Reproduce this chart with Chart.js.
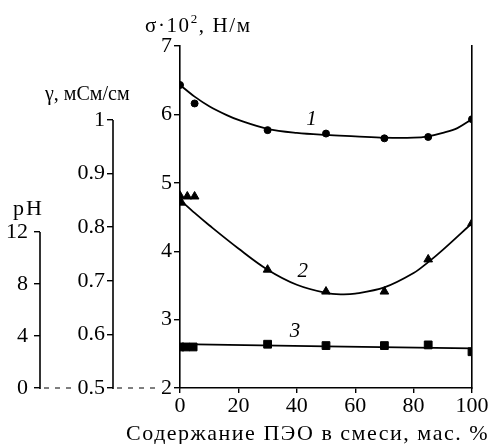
<!DOCTYPE html>
<html>
<head>
<meta charset="utf-8">
<script src="https://cdn.jsdelivr.net/npm/chart.js@4"></script>
<style>
  html, body { margin: 0; padding: 0; background: #fff; }
  #wrap { width: 491px; height: 444px; }
</style>
</head>
<body>
<div id="wrap"><canvas id="chart"></canvas></div>
<script>
// axis ticks
const xTicks = [0, 20, 40, 60, 80, 100];
const sigmaTicks = [2, 3, 4, 5, 6, 7];
const gammaTicks = [0.5, 0.6, 0.7, 0.8, 0.9, 1];
const phTicks = [0, 4, 8, 12];

// 1 - circles (sigma)
const pts1X = [0, 5, 30, 50, 70, 85, 100];
const pts1Y = [6.43, 6.16, 5.77, 5.72, 5.65, 5.67, 5.93];
const fit1X = [0, 5, 10, 16, 20, 30, 40, 50, 60, 70, 80, 85, 90, 95, 100];
const fit1Y = [6.43, 6.26, 6.12, 5.99, 5.92, 5.79, 5.73, 5.70, 5.68, 5.66, 5.66, 5.68, 5.73, 5.80, 5.93];

// 2 - triangles (gamma)
const pts2X = [0, 0.5, 2.5, 5, 30, 50, 70, 85, 100];
const pts2Y = [4.81, 4.71, 4.80, 4.80, 3.73, 3.41, 3.41, 3.88, 4.41];
const fit2X = [0, 5, 10, 20, 30, 40, 50, 55, 60, 70, 80, 85, 90, 100];
const fit2Y = [4.75, 4.56, 4.38, 4.04, 3.73, 3.51, 3.39, 3.37, 3.38, 3.47, 3.68, 3.84, 4.02, 4.41];

// 3 - squares (pH)
const pts3X = [0, 2, 4.5, 30, 50, 70, 85, 100];
const pts3Y = [2.60, 2.60, 2.60, 2.64, 2.62, 2.62, 2.63, 2.53];
const fit3X = [0, 100];
const fit3Y = [2.64, 2.58];

// curve labels
const curveLabels = ['1', '2', '3'];
const labelX = [45, 42, 39.4];
const labelY = [5.92, 3.70, 2.82];

const FONT = "'Liberation Serif', 'Times New Roman', serif";
Chart.defaults.font.family = FONT;
Chart.defaults.color = '#000';

const toXY = (xs, ys) => xs.map((x, i) => ({ x: x, y: ys[i] }));

const pointSet = (xs, ys, style, r) => ({
    data: toXY(xs, ys),
    showLine: false,
    pointStyle: style,
    pointRadius: r,
    pointHoverRadius: r,
    pointBackgroundColor: '#000',
    pointBorderColor: '#000',
    pointBorderWidth: 1,
});

const lineSet = (xs, ys) => ({
    data: toXY(xs, ys),
    showLine: true,
    borderColor: '#000',
    borderWidth: 1.8,
    pointRadius: 0,
    tension: 0.35,
    fill: false,
});

const setTicks = (list) => (s) => { s.ticks = list.map((v) => ({ value: v })); };

const decor = {
    id: 'decor',
    afterDraw(chart) {
        const { ctx, scales } = chart;
        const x = scales.x, y = scales.y, g = scales.gamma, p = scales.ph;
        ctx.save();
        ctx.strokeStyle = '#000';
        ctx.fillStyle = '#000';
        ctx.lineWidth = 1.6;

        // short axis lines for gamma and pH
        [[g, gammaTicks], [p, phTicks]].forEach(([s, t]) => {
            const ax = s.right;
            ctx.beginPath();
            ctx.moveTo(ax, s.getPixelForValue(t[0]) + 1);
            ctx.lineTo(ax, s.getPixelForValue(t[t.length - 1]));
            ctx.stroke();
        });

        // dashed connectors along the bottom
        ctx.font = '22px ' + FONT;
        const base = y.getPixelForValue(sigmaTicks[0]);
        const gLabelLeft = g.right - 8 - ctx.measureText('0.5').width;
        const yLabelLeft = y.right - 8 - ctx.measureText('2').width;
        ctx.lineWidth = 1.2;
        ctx.setLineDash([5, 6]);
        ctx.beginPath();
        ctx.moveTo(p.right + 4, base);
        ctx.lineTo(gLabelLeft - 4, base);
        ctx.moveTo(g.right + 4, base);
        ctx.lineTo(yLabelLeft - 1, base);
        ctx.stroke();
        ctx.setLineDash([]);

        // axis titles
        ctx.textBaseline = 'alphabetic';
        ctx.textAlign = 'left';
        ctx.font = '22px ' + FONT;
        ctx.letterSpacing = '2px';
        ctx.fillText('pH', p.right - 27, p.getPixelForValue(12) - 17);
        ctx.letterSpacing = '0px';
        ctx.font = '20px ' + FONT;
        ctx.fillText('\u03B3, мСм/см', g.right - 68, g.getPixelForValue(1) - 20);

        // sigma title with raised exponent
        let tx = y.right - 35;
        const ty = y.top - 14;
        ctx.letterSpacing = '1.6px';
        ctx.font = '21px ' + FONT;
        ctx.fillText('\u03C3\u00B710', tx, ty);
        tx += ctx.measureText('\u03C3\u00B710').width;
        ctx.font = '13px ' + FONT;
        ctx.fillText('2', tx, ty - 9);
        tx += ctx.measureText('2').width;
        ctx.font = '21px ' + FONT;
        ctx.fillText(', Н/м', tx, ty);

        // x title
        ctx.textAlign = 'right';
        ctx.font = '22px ' + FONT;
        ctx.letterSpacing = '1.5px';
        ctx.fillText('Содержание ПЭО в смеси, мас. %', chart.width - 2, chart.height - 4);
        ctx.letterSpacing = '0px';

        // curve numbers
        ctx.font = 'italic 21px ' + FONT;
        ctx.textAlign = 'center';
        ctx.textBaseline = 'middle';
        curveLabels.forEach((t, i) => {
            ctx.fillText(t, x.getPixelForValue(labelX[i]), y.getPixelForValue(labelY[i]));
        });
        ctx.restore();
    },
};

const tickFont = { size: 22, family: FONT };

new Chart(document.getElementById('chart'), {
    type: 'scatter',
    data: {
        datasets: [
            lineSet(fit1X, fit1Y),
            pointSet(pts1X, pts1Y, 'circle', 3.5),
            lineSet(fit2X, fit2Y),
            pointSet(pts2X, pts2Y, 'triangle', 5),
            lineSet(fit3X, fit3Y),
            pointSet(pts3X, pts3Y, 'rect', 5.5),
        ],
    },
    options: {
        responsive: true,
        maintainAspectRatio: false,
        animation: false,
        layout: { padding: { top: 46, left: 0, right: 0, bottom: 0 } },
        plugins: {
            legend: { display: false },
            tooltip: { enabled: false },
        },
        scales: {
            x: {
                type: 'linear',
                position: 'bottom',
                min: 0,
                max: 100,
                afterBuildTicks: setTicks(xTicks),
                afterFit: (s) => { s.height = 56; },
                grid: { display: true, drawOnChartArea: false, tickLength: 5, color: '#000', lineWidth: 1.4 },
                border: { display: true, color: '#000', width: 1.6 },
                ticks: { font: tickFont, padding: 0, maxRotation: 0 },
            },
            y: {
                type: 'linear',
                position: 'left',
                weight: 1,
                min: 2,
                max: 7,
                afterBuildTicks: setTicks(sigmaTicks),
                afterFit: (s) => { s.width = 67; },
                grid: { display: true, drawOnChartArea: false, tickLength: 6, color: '#000', lineWidth: 1.4 },
                border: { display: true, color: '#000', width: 1.6 },
                ticks: { font: tickFont, padding: 2 },
            },
            gamma: {
                type: 'linear',
                position: 'left',
                display: true,
                weight: 2,
                min: 0.5,
                max: 1.138,
                afterBuildTicks: setTicks(gammaTicks),
                afterFit: (s) => { s.width = 73; },
                grid: { display: true, drawOnChartArea: false, tickLength: 6, color: '#000', lineWidth: 1.4 },
                border: { display: false },
                ticks: { font: tickFont, padding: 2, callback: (v) => String(v) },
            },
            ph: {
                type: 'linear',
                position: 'left',
                display: true,
                weight: 3,
                min: 0,
                max: 26.3,
                afterBuildTicks: setTicks(phTicks),
                afterFit: (s) => { s.width = 40; },
                grid: { display: true, drawOnChartArea: false, tickLength: 6, color: '#000', lineWidth: 1.4 },
                border: { display: false },
                ticks: { font: tickFont, padding: 6, callback: (v) => String(v) },
            },
            r: {
                type: 'linear',
                position: 'right',
                display: true,
                afterFit: (s) => { s.width = 19; },
                grid: { display: false },
                border: { display: true, color: '#000', width: 1.6 },
                ticks: { display: false },
            },
        },
    },
    plugins: [decor],
});
</script>
</body>
</html>
